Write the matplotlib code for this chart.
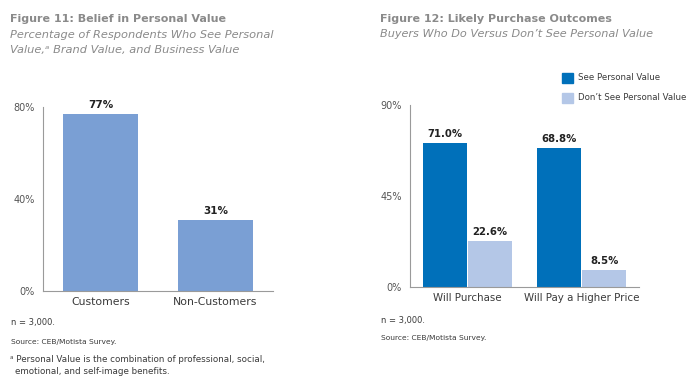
import matplotlib.pyplot as plt
import numpy as np

plt.rcParams['font.family'] = ['DejaVu Sans']

# Figure 11 data
cats11 = ['Customers', 'Non-Customers']
vals11 = [77, 31]
labels11 = ['77%', '31%']

# Figure 12 data
cats12 = ['Will Purchase', 'Will Pay a Higher Price']
see_pv = [71.0, 68.8]
dont_pv = [22.6, 8.5]
series12 = ['See Personal Value', "Don\u2019t See Personal Value"]

W, H = 700, 389
fig = plt.figure(figsize=(7, 3.89), dpi=100)
gray = '#8a8a8a'
spine = '#9a9a9a'
txt = '#3a3a3a'


def px_axes(x0, x1, ytop, ybot):
    return fig.add_axes([x0 / W, (H - ybot) / H, (x1 - x0) / W, (ybot - ytop) / H])


def style(ax, yticks, ylabels, xsize):
    for s in ['top', 'right']:
        ax.spines[s].set_visible(False)
    for s in ['left', 'bottom']:
        ax.spines[s].set_color(spine)
        ax.spines[s].set_linewidth(0.8)
    ax.set_yticks(yticks)
    ax.set_yticklabels(ylabels, fontsize=7, color='#555555')
    ax.tick_params(length=0, pad=6)
    ax.tick_params(axis='x', labelsize=xsize, labelcolor=txt, pad=4)


# ---- Figure 11
ax1 = px_axes(43, 273, 107, 291)
x1 = np.arange(len(cats11))
ax1.bar(x1, vals11, width=0.65, color='#7a9fd4')
for xi, v, lab in zip(x1, vals11, labels11):
    ax1.annotate(lab, (xi, v), xytext=(0, 3), textcoords='offset points',
                 ha='center', va='bottom', fontsize=7.5, fontweight='bold', color='#222222')
ax1.set_xlim(-0.5, 1.5)
ax1.set_ylim(0, 80)
ax1.set_xticks(x1)
ax1.set_xticklabels(cats11)
style(ax1, [0, 40, 80], ['0%', '40%', '80%'], 7.8)

# ---- Figure 12
ax2 = px_axes(410, 639, 105, 287)
x2 = np.arange(len(cats12))
w = 0.385
b1 = ax2.bar(x2 - w / 2 - 0.005, see_pv, width=w, color='#0070ba', label=series12[0])
b2 = ax2.bar(x2 + w / 2 + 0.005, dont_pv, width=w, color='#b4c7e7', label=series12[1])
for bars, vals in [(b1, see_pv), (b2, dont_pv)]:
    for r, v in zip(bars, vals):
        ax2.annotate(f'{v:.1f}%', (r.get_x() + r.get_width() / 2, v), xytext=(0, 3),
                     textcoords='offset points', ha='center', va='bottom',
                     fontsize=7.3, fontweight='bold', color='#222222')
ax2.set_xlim(-0.5, 1.5)
ax2.set_ylim(0, 90)
ax2.set_xticks(x2)
ax2.set_xticklabels(cats12)
style(ax2, [0, 45, 90], ['0%', '45%', '90%'], 7.4)

# legend drawn as figure patches + text
for i, (name, col) in enumerate(zip(series12, ['#0070ba', '#b4c7e7'])):
    yc = 78 + i * 20
    fig.patches.append(plt.Rectangle((562 / W, (H - yc - 5) / H), 11 / W, 10 / H,
                                     transform=fig.transFigure, color=col))
    fig.text(578 / W, (H - yc) / H, name, fontsize=6.2, color=txt, va='center')

# ---- titles
def ftext(x, y, s, **kw):
    fig.text(x / W, (H - y) / H, s, va='center', **kw)

ftext(10, 19, 'Figure 11: Belief in Personal Value', fontsize=8, fontweight='bold', color=gray)
ftext(10, 35, 'Percentage of Respondents Who See Personal', fontsize=8.2, style='italic', color=gray)
ftext(10, 50, 'Value,\u1d43 Brand Value, and Business Value', fontsize=8.2, style='italic', color=gray)

ftext(380, 19, 'Figure 12: Likely Purchase Outcomes', fontsize=8, fontweight='bold', color=gray)
ftext(380, 34, 'Buyers Who Do Versus Don\u2019t See Personal Value', fontsize=8.1, style='italic', color=gray)

# ---- footnotes
ftext(11, 323, 'n = 3,000.', fontsize=6, color=txt)
ftext(11, 342, 'Source: CEB/Motista Survey.', fontsize=5.4, color=txt)
ftext(10, 360, '\u1d43 Personal Value is the combination of professional, social,', fontsize=6.3, color=txt)
ftext(15, 371, 'emotional, and self-image benefits.', fontsize=6.3, color=txt)

ftext(381, 320, 'n = 3,000.', fontsize=6, color=txt)
ftext(381, 338, 'Source: CEB/Motista Survey.', fontsize=5.4, color=txt)

fig.savefig('out.png', dpi=100)
